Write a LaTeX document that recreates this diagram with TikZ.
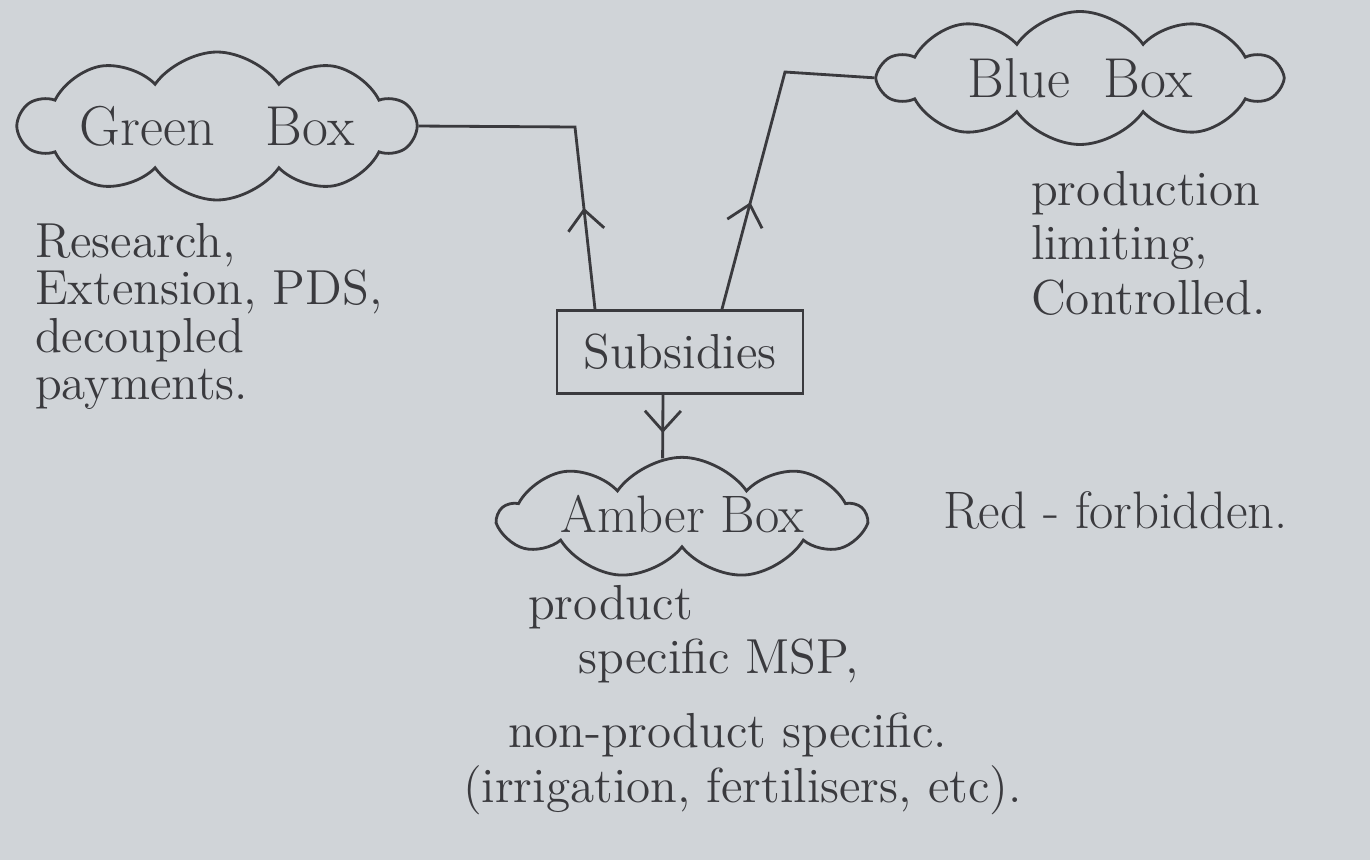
\documentclass[tikz,border=0pt]{standalone}
\usetikzlibrary{shapes.symbols,positioning,decorations.markings,arrows.meta}
\definecolor{paper}{RGB}{208,212,216}
\definecolor{ink}{RGB}{58,58,62}
\tikzset{
  wtobox/.style={cloud, draw=ink, cloud puffs=10, cloud puff arc=110, cloud ignores aspect,
    inner sep=0pt, text=ink, font=\fontsize{16}{19}\selectfont},
  subsbox/.style={draw=ink, inner sep=0pt, text=ink, font=\fontsize{14}{17}\selectfont},
  note/.style={anchor=north west, align=left, text=ink, font=\fontsize{14}{13.5}\selectfont},
  midarrow/.style={postaction={decorate}, decoration={markings,
    mark=at position #1 with {\arrow{Straight Barb[length=2mm,width=3.6mm]}}}},
}
\begin{document}
\begin{tikzpicture}[line width=0.8pt, draw=ink]
  % paper, fixes the size of the page
  \fill[paper] (0,0) rectangle (13.7,-8.6);
  \useasboundingbox (0,0) rectangle (13.7,-8.6);
  % the three boxes and the subsidies in the middle
  \node[wtobox, minimum width=3.95cm, minimum height=1.48cm] (green) at (2.17,-1.26) {Green\ \ \ Box};
  \node[wtobox, minimum width=4.0cm, minimum height=1.33cm] (blue) at (10.8,-0.78) {Blue\ \ Box};
  \node[wtobox, cloud puffs=9, minimum width=3.65cm, minimum height=1.02cm, font=\fontsize{15}{18}\selectfont] (amber) at (6.82,-5.18) {\raisebox{0.8mm}{Amber Box}};
  \node[subsbox, minimum width=2.46cm, minimum height=0.83cm] (subs) at (6.8,-3.52) {Subsidies};
  % connectors, each with an arrow half way
  \coordinate (gbend) at (5.75,-1.27);
  \coordinate (bbend) at (7.85,-0.72);
  \draw[midarrow=0.3] ([xshift=-0.85cm]subs.north) -- (gbend) -- (green.east);
  \draw[midarrow=0.33] ([xshift=0.42cm]subs.north) -- (bbend) -- (blue.west);
  \draw[midarrow=0.6] ([xshift=-0.17cm]subs.south) -- (amber.108);
  % what goes in each box
  \node[note] (greentext) at (0.22,-2.1) {Research,\\Extension, PDS,\\decoupled\\payments.};
  \node[note, font=\fontsize{14}{15.5}\selectfont] (bluetext) at (10.18,-1.58) {production\\limiting,\\Controlled.};
  \node[note, anchor=west, font=\fontsize{15}{18}\selectfont] (redtext) at (9.3,-5.1) {Red - forbidden.};
  \node[note, font=\fontsize{14}{15.5}\selectfont] (ambertext) at (5.15,-5.72) {product\\\hspace{5mm}specific MSP,};
  \node[note, font=\fontsize{14}{15.5}\selectfont] (othertext) at (4.5,-7.0) {\hspace{4.5mm}non-product specific.\\(irrigation, fertilisers, etc).};
\end{tikzpicture}
\end{document}
